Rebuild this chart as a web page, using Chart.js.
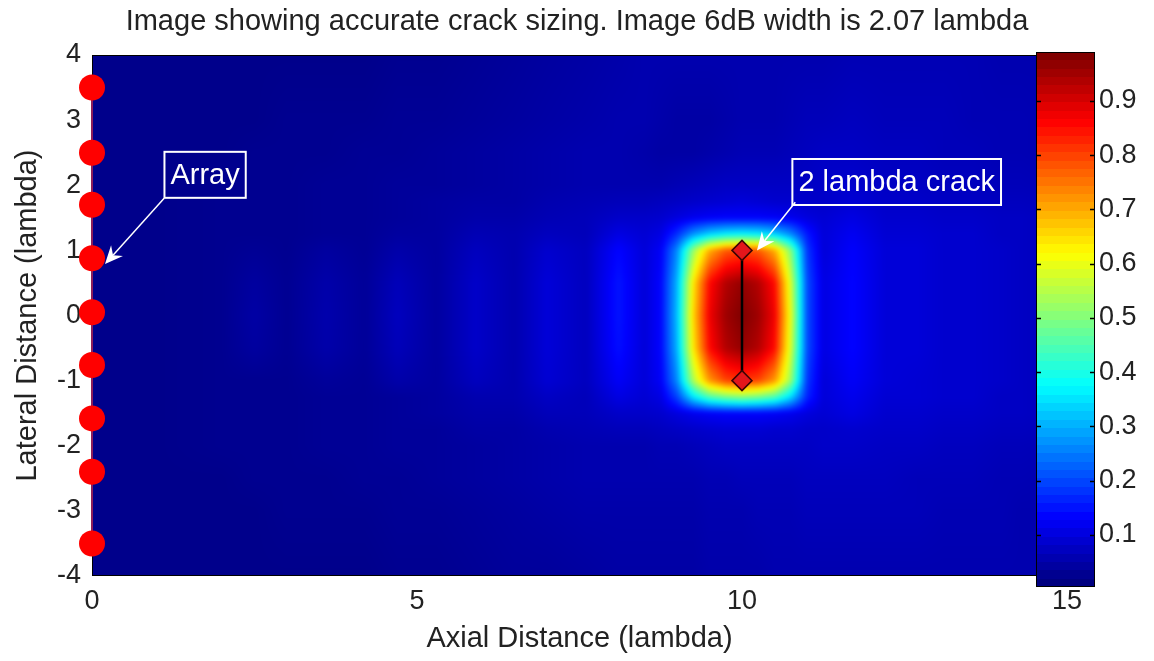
<!DOCTYPE html>
<html>
<head>
<meta charset="utf-8">
<title>Crack sizing image</title>
<script src="https://cdn.jsdelivr.net/npm/chart.js@4.4.1/dist/chart.umd.min.js"></script>
<style>
  html, body { margin: 0; padding: 0; background: #fff; }
  #wrap { position: relative; width: 1154px; height: 661px; }
  #main { position: absolute; left: 0; top: 0; }
  #cbar { position: absolute; left: 1000px; top: 0; }
</style>
</head>
<body>
<div id="wrap">
  <canvas id="main" width="1154" height="661"></canvas>
  <canvas id="cbar" width="154" height="661"></canvas>
</div>
<script>
// ---- data -----------------------------------------------------------------
const titleText = 'Image showing accurate crack sizing. Image 6dB width is 2.07 lambda';
const xTitle = 'Axial Distance (lambda)';
const yTitle = 'Lateral Distance (lambda)';

const xTicks = [0, 5, 10, 15];
const yTicks = [-4, -3, -2, -1, 0, 1, 2, 3, 4];
const colorbarTicks = [0.1, 0.2, 0.3, 0.4, 0.5, 0.6, 0.7, 0.8, 0.9];
const colorLimits = [0.004, 0.99];

// transducer array elements (axial position 0)
const arrayX = 0;
const arrayElementY = [3.5, 2.5, 1.7, 0.88, 0.05, -0.76, -1.58, -2.4, -3.5];

// crack: vertical segment at axial 10, lateral ±1
const crackX = 10;
const crackEnds = [1, -1];

// text arrows: label, label centre, arrow start, arrow tip (axis units)
const noteText = ['Array', '2 lambda crack'];
const noteLabelX = [1.74, 12.38];
const noteLabelY = [2.16, 2.05];
const noteFromX = [1.11, 10.82];
const noteFromY = [1.80, 1.74];
const noteTipX = [0.2, 10.23];
const noteTipY = [0.79, 1.0];

// image grid: axial sample positions (columns) and lateral sample positions (rows, top to bottom)
const axialGrid = [0, 1, 2, 2.5, 3, 3.6, 4.2, 4.7, 5.3, 5.9, 6.5, 7.0, 7.6, 8.1, 8.5, 8.75, 9, 9.25, 9.5, 9.75,
                   10, 10.25, 10.5, 10.75, 11, 11.25, 11.7, 12.2, 12.7, 13.1, 13.55, 14, 14.3, 15];
const lateralGrid = [4, 3, 2.5, 2, 1.75, 1.5, 1.25, 1, 0.5, 0, -0.5, -1, -1.25, -1.5, -1.75, -2, -2.5, -3, -4];

// normalised image amplitude, one row per lateral position
const amplitude = [
  [.015,.015,.015,.015,.015, .015,.015,.020,.020,.025, .030,.035,.040,.045,.050, .050,.050,.050,.050,.050, .050,.050,.050,.050,.050, .050,.055,.055,.055,.055, .055,.050,.050,.050],
  [.015,.015,.015,.015,.020, .020,.020,.025,.025,.030, .035,.040,.045,.050,.050, .045,.040,.040,.040,.045, .050,.050,.050,.055,.060, .060,.065,.060,.060,.060, .055,.055,.055,.050],
  [.015,.015,.015,.020,.020, .020,.025,.025,.030,.035, .040,.045,.050,.050,.045, .040,.040,.040,.045,.050, .055,.055,.055,.060,.065, .070,.070,.065,.065,.060, .060,.055,.055,.050],
  [.015,.015,.020,.020,.020, .025,.025,.030,.030,.035, .040,.045,.050,.050,.050, .050,.055,.060,.065,.070, .070,.070,.070,.070,.070, .075,.080,.070,.070,.065, .065,.060,.060,.055],
  [.015,.015,.020,.020,.020, .025,.025,.030,.035,.040, .040,.050,.055,.060,.060, .065,.070,.075,.080,.085, .090,.085,.080,.080,.075, .075,.085,.075,.075,.070, .070,.065,.065,.060],
  [.015,.015,.020,.020,.020, .025,.025,.030,.035,.045, .045,.055,.060,.075,.075, .080,.095,.110,.120,.125, .125,.125,.120,.110,.095, .085,.100,.080,.080,.075, .075,.070,.070,.060],
  [.015,.015,.020,.020,.020, .025,.025,.035,.035,.055, .050,.065,.060,.100,.085, .100,.170,.270,.330,.360, .370,.360,.330,.260,.150, .090,.115,.085,.085,.080, .080,.070,.070,.060],
  [.015,.015,.020,.025,.020, .035,.025,.045,.035,.065, .050,.080,.065,.130,.090, .120,.260,.520,.700,.780, .800,.780,.700,.500,.180, .090,.125,.090,.090,.080, .080,.075,.070,.060],
  [.015,.015,.020,.035,.022, .045,.028,.060,.035,.075, .050,.090,.065,.145,.090, .130,.300,.640,.860,.940, .970,.940,.860,.580,.200, .100,.130,.090,.090,.080, .080,.075,.070,.060],
  [.015,.015,.020,.040,.022, .048,.028,.065,.035,.075, .050,.090,.065,.145,.090, .130,.310,.660,.880,.960, .990,.960,.880,.600,.200, .100,.130,.090,.090,.080, .080,.075,.070,.060],
  [.015,.015,.020,.035,.022, .045,.028,.060,.035,.075, .050,.090,.065,.140,.090, .130,.300,.640,.860,.940, .970,.940,.860,.580,.200, .100,.130,.090,.090,.080, .080,.075,.070,.060],
  [.015,.015,.020,.020,.020, .030,.025,.045,.035,.065, .050,.085,.065,.120,.090, .120,.260,.540,.720,.800, .820,.800,.720,.520,.180, .090,.120,.090,.085,.080, .080,.075,.070,.060],
  [.015,.015,.020,.020,.020, .025,.025,.030,.035,.050, .050,.070,.060,.100,.085, .100,.190,.350,.450,.490, .510,.490,.450,.340,.160, .090,.110,.085,.085,.080, .080,.070,.070,.060],
  [.015,.015,.020,.020,.020, .025,.025,.030,.035,.045, .045,.060,.060,.075,.075, .080,.095,.110,.120,.125, .125,.125,.120,.110,.095, .085,.100,.080,.080,.075, .075,.070,.070,.060],
  [.015,.015,.020,.020,.020, .025,.025,.030,.030,.040, .040,.050,.055,.060,.060, .065,.070,.075,.080,.085, .085,.085,.080,.080,.075, .075,.080,.075,.075,.070, .070,.065,.065,.060],
  [.015,.015,.020,.020,.020, .025,.025,.030,.030,.035, .040,.045,.050,.050,.050, .055,.055,.060,.065,.070, .070,.070,.070,.070,.070, .075,.075,.070,.070,.065, .065,.060,.060,.055],
  [.015,.015,.015,.020,.020, .020,.025,.025,.030,.035, .040,.045,.050,.050,.050, .050,.050,.050,.055,.055, .060,.060,.060,.060,.065, .065,.065,.065,.060,.060, .060,.055,.055,.050],
  [.015,.015,.015,.015,.020, .020,.020,.025,.025,.030, .035,.040,.045,.045,.045, .045,.045,.045,.050,.050, .050,.055,.055,.055,.060, .060,.060,.060,.060,.055, .055,.055,.050,.050],
  [.015,.015,.015,.015,.015, .015,.015,.020,.020,.025, .030,.030,.035,.040,.040, .040,.040,.040,.045,.045, .045,.045,.050,.050,.050, .050,.050,.050,.050,.050, .050,.050,.050,.050]
];

// ---- styling ----------------------------------------------------------------
const FONT = "'Liberation Sans', Arial, Helvetica, sans-serif";
const TEXT = '#222222';

// MATLAB-style jet colour map, t in [0,1]
function jet(t) {
  t = Math.min(1, Math.max(0, t));
  const c = v => Math.round(255 * Math.min(1, Math.max(0, v)));
  return [c(1.5 - Math.abs(4 * t - 3)), c(1.5 - Math.abs(4 * t - 2)), c(1.5 - Math.abs(4 * t - 1))];
}

// interpolated-shading image of the amplitude grid, placed through the chart scales
const imagePlugin = {
  id: 'ampImage',
  beforeDatasetsDraw(chart) {
    const { ctx, chartArea: a, scales } = chart;
    const xs = scales.x, ys = scales.y;
    const pad = 6;
    const w = Math.round(a.right - a.left) + 2 * pad;
    const h = Math.round(a.bottom - a.top) + 2 * pad;
    const off = document.createElement('canvas');
    off.width = w; off.height = h;
    const octx = off.getContext('2d');
    const img = octx.createImageData(w, h);
    const nx = axialGrid.length, ny = lateralGrid.length;
    const cj = new Int32Array(w), cf = new Float32Array(w);
    for (let i = 0; i < w; i++) {
      let v = xs.getValueForPixel(a.left - pad + i + 0.5);
      v = Math.max(axialGrid[0], Math.min(axialGrid[nx - 1], v));
      let j = 0;
      while (j < nx - 2 && v > axialGrid[j + 1]) j++;
      cj[i] = j;
      cf[i] = (v - axialGrid[j]) / (axialGrid[j + 1] - axialGrid[j]);
    }
    const rk = new Int32Array(h), rf = new Float32Array(h);
    for (let r = 0; r < h; r++) {
      let v = ys.getValueForPixel(a.top - pad + r + 0.5);
      v = Math.min(lateralGrid[0], Math.max(lateralGrid[ny - 1], v));
      let k = 0;
      while (k < ny - 2 && v < lateralGrid[k + 1]) k++;
      rk[r] = k;
      rf[r] = (lateralGrid[k] - v) / (lateralGrid[k] - lateralGrid[k + 1]);
    }
    const span = colorLimits[1] - colorLimits[0];
    const d = img.data;
    for (let r = 0; r < h; r++) {
      const k = rk[r], t = rf[r];
      const top = amplitude[k], bot = amplitude[k + 1];
      for (let i = 0; i < w; i++) {
        const j = cj[i], s = cf[i];
        const vt = top[j] + (top[j + 1] - top[j]) * s;
        const vb = bot[j] + (bot[j + 1] - bot[j]) * s;
        const v = vt + (vb - vt) * t;
        const col = jet((v - colorLimits[0]) / span);
        const p = (r * w + i) * 4;
        d[p] = col[0]; d[p + 1] = col[1]; d[p + 2] = col[2]; d[p + 3] = 255;
      }
    }
    octx.putImageData(img, 0, 0);
    ctx.save();
    ctx.beginPath();
    ctx.rect(a.left, a.top, a.right - a.left, a.bottom - a.top);
    ctx.clip();
    ctx.filter = 'blur(2px)';
    ctx.drawImage(off, a.left - pad, a.top - pad);
    ctx.restore();
    // axes box
    ctx.save();
    ctx.strokeStyle = '#000';
    ctx.lineWidth = 1;
    ctx.strokeRect(a.left + 0.5, a.top + 0.5, a.right - a.left - 1, a.bottom - a.top - 1);
    ctx.restore();
  }
};

function drawArrow(ctx, x0, y0, x1, y1) {
  const dx = x1 - x0, dy = y1 - y0;
  const len = Math.hypot(dx, dy);
  const ux = dx / len, uy = dy / len;
  const nx = -uy, ny = ux;
  const L = 18, W = 8, notch = 6;
  ctx.beginPath();
  ctx.moveTo(x0, y0);
  ctx.lineTo(x1 - ux * (L - notch), y1 - uy * (L - notch));
  ctx.stroke();
  ctx.beginPath();
  ctx.moveTo(x1, y1);
  ctx.lineTo(x1 - ux * L + nx * W, y1 - uy * L + ny * W);
  ctx.lineTo(x1 - ux * (L - notch), y1 - uy * (L - notch));
  ctx.lineTo(x1 - ux * L - nx * W, y1 - uy * L - ny * W);
  ctx.closePath();
  ctx.fill();
}

// boxed labels with arrows
const notePlugin = {
  id: 'notes',
  afterDatasetsDraw(chart) {
    const { ctx, scales: { x, y } } = chart;
    ctx.save();
    ctx.font = '29px ' + FONT;
    ctx.fillStyle = '#ffffff';
    ctx.strokeStyle = '#ffffff';
    ctx.textAlign = 'center';
    ctx.textBaseline = 'middle';
    noteText.forEach((txt, i) => {
      const cx = x.getPixelForValue(noteLabelX[i]);
      const cy = y.getPixelForValue(noteLabelY[i]);
      const tw = ctx.measureText(txt).width;
      const bw = tw + 12, bh = 46;
      ctx.lineWidth = 2;
      ctx.strokeRect(cx - bw / 2, cy - bh / 2, bw, bh);
      ctx.fillText(txt, cx, cy + 1);
      ctx.lineWidth = 1.5;
      drawArrow(ctx,
        x.getPixelForValue(noteFromX[i]), y.getPixelForValue(noteFromY[i]),
        x.getPixelForValue(noteTipX[i]), y.getPixelForValue(noteTipY[i]));
    });
    ctx.restore();
  }
};

new Chart(document.getElementById('main'), {
  type: 'scatter',
  data: {
    datasets: [
      {
        label: 'Array',
        data: arrayElementY.map(v => ({ x: arrayX, y: v })),
        showLine: true,
        borderColor: '#8c1d5c',
        borderWidth: 2,
        pointRadius: 13,
        pointBackgroundColor: '#ff0000',
        pointBorderWidth: 0,
        clip: false
      },
      {
        label: 'Crack',
        data: crackEnds.map(v => ({ x: crackX, y: v })),
        showLine: true,
        borderColor: '#000000',
        borderWidth: 2.5,
        pointStyle: 'rectRot',
        pointRadius: 10,
        pointBackgroundColor: '#e3161b',
        pointBorderColor: '#3b0505',
        pointBorderWidth: 1.5,
        clip: false
      }
    ]
  },
  options: {
    responsive: false,
    animation: false,
    events: [],
    layout: { padding: 0 },
    plugins: {
      legend: { display: false },
      tooltip: { enabled: false },
      title: {
        display: true,
        text: titleText,
        color: TEXT,
        font: { family: FONT, size: 29, weight: 'normal' },
        padding: { top: 5, bottom: 15.2 }
      }
    },
    scales: {
      x: {
        type: 'linear',
        min: 0, max: 15,
        afterBuildTicks: s => { s.ticks = xTicks.map(v => ({ value: v })); },
        afterFit: s => { s.height = 85; },
        grid: { display: false, drawTicks: false },
        border: { display: false },
        ticks: { font: { family: FONT, size: 27 }, color: TEXT, padding: 9, maxRotation: 0 },
        title: { display: true, text: xTitle, color: TEXT, font: { family: FONT, size: 29 }, padding: { top: 0, bottom: 4.6 } }
      },
      y: {
        type: 'linear',
        min: -4, max: 4,
        afterBuildTicks: s => { s.ticks = yTicks.map(v => ({ value: v })); },
        afterFit: s => { s.width = 92; },
        grid: { display: false, drawTicks: false },
        border: { display: false },
        ticks: { font: { family: FONT, size: 27 }, color: TEXT, padding: 11 },
        title: { display: true, text: yTitle, color: TEXT, font: { family: FONT, size: 29 }, padding: { top: 11, bottom: 0 } }
      },
      // empty band on the right that the colour bar sits over
      yGap: {
        axis: 'y',
        type: 'linear',
        position: 'right',
        min: -4, max: 4,
        afterFit: s => { s.width = 87; },
        grid: { display: false, drawTicks: false },
        border: { display: false },
        ticks: { display: false }
      }
    }
  },
  plugins: [imagePlugin, notePlugin]
});

// ---- colour bar ---------------------------------------------------------------
function jetBands(chart) {
  const a = chart.chartArea;
  if (!a) return '#00008f';
  const g = chart.ctx.createLinearGradient(0, a.bottom, 0, a.top);
  const n = 64;
  for (let i = 0; i < n; i++) {
    const c = jet(i / (n - 1));
    const css = `rgb(${c[0]},${c[1]},${c[2]})`;
    g.addColorStop(i / n, css);
    g.addColorStop((i + 1) / n, css);
  }
  return g;
}

const barFramePlugin = {
  id: 'barFrame',
  afterDatasetsDraw(chart) {
    const { ctx, chartArea: a, scales: { y } } = chart;
    ctx.save();
    ctx.strokeStyle = '#000';
    ctx.lineWidth = 1;
    ctx.strokeRect(a.left + 0.5, a.top + 0.5, a.right - a.left - 1, a.bottom - a.top - 1);
    ctx.lineWidth = 1.5;
    colorbarTicks.forEach(v => {
      const py = Math.round(y.getPixelForValue(v)) + 0.5;
      ctx.beginPath();
      ctx.moveTo(a.left, py); ctx.lineTo(a.left + 5, py);
      ctx.moveTo(a.right - 5, py); ctx.lineTo(a.right, py);
      ctx.stroke();
    });
    ctx.restore();
  }
};

new Chart(document.getElementById('cbar'), {
  type: 'bar',
  data: {
    labels: [''],
    datasets: [{
      data: [[colorLimits[0], colorLimits[1]]],
      backgroundColor: ctx => jetBands(ctx.chart),
      borderWidth: 0,
      barPercentage: 1,
      categoryPercentage: 1
    }]
  },
  options: {
    responsive: false,
    animation: false,
    events: [],
    layout: { padding: { left: 36, top: 52, bottom: 74, right: 0 } },
    plugins: { legend: { display: false }, tooltip: { enabled: false } },
    scales: {
      x: { display: false },
      y: {
        position: 'right',
        min: colorLimits[0], max: colorLimits[1],
        afterBuildTicks: s => { s.ticks = colorbarTicks.map(v => ({ value: v })); },
        afterFit: s => { s.width = 59; },
        grid: { display: false, drawTicks: false },
        border: { display: false },
        ticks: { font: { family: FONT, size: 27 }, color: TEXT, padding: 4, callback: v => Number(v).toFixed(1) }
      }
    }
  },
  plugins: [barFramePlugin]
});
</script>
</body>
</html>
